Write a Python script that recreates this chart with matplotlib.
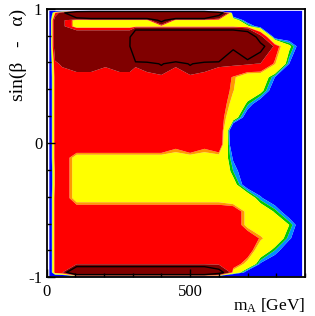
import numpy as np
import matplotlib
matplotlib.use("Agg")
import matplotlib.pyplot as plt
from matplotlib.colors import ListedColormap, BoundaryNorm
from matplotlib.ticker import MultipleLocator, FixedLocator

plt.rcParams['font.family'] = ['Liberation Serif', 'DejaVu Serif']
plt.rcParams['mathtext.fontset'] = 'custom'
plt.rcParams['mathtext.rm'] = 'Liberation Serif'
plt.rcParams['mathtext.it'] = 'Liberation Serif:italic'
plt.rcParams['axes.unicode_minus'] = False

# grid of scan points
m_A = [10, 30, 55, 105, 155, 205, 255, 290, 310, 350, 400, 450, 500,
       550, 600, 650, 700, 745, 795, 845, 890]
sin_ba = [0.984, 0.969, 0.914, 0.869, 0.789, 0.72, 0.59, 0.49, 0.39, 0.29,
          0.19, 0.09, -0.01, -0.11, -0.21, -0.31, -0.41, -0.51, -0.61,
          -0.71, -0.80, -0.90, -0.964, -0.994]

# score per grid point (rows follow sin_ba, columns follow m_A)
score = [
    [-1, -1, -1, -1, -1, -1, -1, -1, -1, -1, -1, -1, -1, -1, -1, -1, -1, -1, -1, -1, -1],
    [-1, 1.5, 3.5, 15, 20, 20, 20, 20, 20, 20, 20, 20, 20, 20, 8, -0.5, 0, 0, 0, 0, 0],
    [-1, 3.5, 2.8, 1, 1, 1, 1, 1, 1, 1, 7, 1, 1, 1, 1, 1, 0, 0, 0, 0, 0],
    [-1, 3.5, 2.8, 1, 1, 1, 1, 1, 1, 1, 1, 1, 1, 1, 1, 1, 0.7, 0, 0, 0, 0],
    [-1, 3.5, 4, 5, 5, 5, 5, 5, 14, 14, 14, 14, 14, 14, 14, 14, 10.4, 3, 0, 0, 0],
    [-1, 3.5, 4, 5, 5, 5, 5, 5, 28, 28, 28, 28, 28, 28, 28, 6.2, 14.9, 7, 2, 0.7, 0],
    [-1, 2.3, 2.67, 3.3, 3.3, 2.67, 3.3, 3.3, 2.67, 3.3, 6, 2.67, 6, 3.3, 2.67, 2.67, 2.6, 2.45, 1.5, 0.3, 0],
    [-1, 2, 2, 2, 2, 2, 2, 2, 2, 2, 1.8, 2, 1.8, 2, 2, 1.55, 1, 1, 0.3, 0, 0],
    [-1, 2, 2, 2, 2, 2, 2, 2, 2, 2, 2, 2, 2, 2, 2, 1.47, 1, 0.75, 0, 0, 0],
    [-1, 2, 2, 2, 2, 2, 2, 2, 2, 2, 2, 2, 2, 2, 2, 1.26, 0.5, 0, 0, 0, 0],
    [-1, 2, 2, 2, 2, 2, 2, 2, 2, 2, 2, 2, 2, 2, 2, 0.9, 0, 0, 0, 0, 0],
    [-1, 2, 2, 2, 2, 2, 2, 2, 2, 2, 2, 2, 2, 2, 2.4, -0.5, 0, 0, 0, 0, 0],
    [-1, 2, 2, 2.3, 2.3, 2.3, 2.3, 2.3, 2.3, 2.3, 2.3, 1.8, 2.3, 1.8, 2.2, -0.3, 0, 0, 0, 0, 0],
    [-1, 2, 2, 1.2, 1.2, 1.2, 1.2, 1.2, 1.2, 1.2, 1.2, 1.2, 1.2, 1.2, 1.2, 0.25, 0, 0, 0, 0, 0],
    [-1, 1.75, 2, 1.2, 1.2, 1.2, 1.2, 1.2, 1.2, 1.2, 1.2, 1.2, 1.2, 1.2, 1.2, 0.45, 0, 0, 0, 0, 0],
    [-1, 1.75, 2, 1.2, 1.2, 1.2, 1.2, 1.2, 1.2, 1.2, 1.2, 1.2, 1.2, 1.2, 1.2, 0.8, 0, 0, 0, 0, 0],
    [-1, 2, 2, 1.2, 1.2, 1.2, 1.2, 1.2, 1.2, 1.2, 1.2, 1.2, 1.2, 1.2, 1.2, 1.0, 1.0, 0.35, 0, 0, 0],
    [-1, 2, 2, 2, 2, 2, 2, 2, 2, 2, 2, 2, 2, 2, 2, 2, 1.3, 1, 0.55, 0, 0],
    [-1, 2, 2, 2, 2, 2, 2, 2, 2, 2, 2, 2, 2, 2, 2, 2, 1.3, 1, 1, 0.6, 0],
    [-1, 2, 2, 2, 2, 2, 2, 2, 2, 2, 2, 2, 2, 2, 2, 2, 2, 1.55, 1, 0.35, 0],
    [-1, 2, 2, 2, 2, 2, 2, 2, 2, 2, 2, 2, 2, 2, 2, 2, 2, 1, 0.45, 0, 0],
    [-1, 2, 2, 2, 2, 2, 2, 2, 2, 2, 2, 2, 2, 2, 2, 2, 1.25, 0.25, 0, 0, 0],
    [-1, 2, 2.4, 12.8, 12.8, 12.8, 12.8, 12.8, 12.8, 12.8, 12.8, 12.8, 12.8, 12.8, 7.6, 1.2, 0, 0, 0, 0, 0],
    [-1, -1, -1, -1, -1, -1, -1, -1, -1, -1, -1, -1, -1, -1, -1, -1, -1, -1, -1, -1, -1],
]

fill_levels = [-10, 0.3, 0.45, 0.6, 1.45, 1.6, 2.5, 100]
fill_colors = ['#0000ff', '#0090ff', '#00c800', '#ffff00', '#ff9900', '#ff0000', '#800000']
line_level = [5.5]

x_ticks_major = [0, 500]
y_ticks_major = [-1, 0, 1]

for r in score:
    assert len(r) == len(m_A), len(r)
assert len(score) == len(sin_ba)

Z = np.array(score, dtype=float)[::-1]
Y = np.array(sin_ba)[::-1]
X = np.array(m_A, dtype=float)

fig = plt.figure(figsize=(3.15, 3.16), dpi=100)
ax = fig.add_axes([46.5 / 315, (316 - 277.3) / 316, (305 - 46.5) / 315, (277.3 - 8.7) / 316])

cmap = ListedColormap(fill_colors)
norm = BoundaryNorm(fill_levels, cmap.N)
ax.contourf(X, Y, Z, levels=fill_levels, cmap=cmap, norm=norm, antialiased=True)
ax.contour(X, Y, Z, levels=line_level, colors='black', linewidths=1.0)

ax.set_xlim(0, 900)
ax.set_ylim(-1, 1)
ax.xaxis.set_major_locator(FixedLocator(x_ticks_major))
ax.xaxis.set_minor_locator(MultipleLocator(100))
ax.yaxis.set_major_locator(FixedLocator(y_ticks_major))
ax.yaxis.set_minor_locator(MultipleLocator(0.2))
ax.tick_params(which='both', direction='in', top=False, right=False, labelsize=12)
ax.tick_params(which='major', length=6, width=1.0)
ax.tick_params(which='minor', length=3, width=1.0)
ax.tick_params(axis='y', pad=3)
ax.tick_params(axis='x', pad=5)
for sp in ax.spines.values():
    sp.set_linewidth(1.3)
    sp.set_color('black')

ax.set_xlabel(r'$\mathregular{m_{A}}$ [GeV]', fontsize=12.5, loc='right')
ax.xaxis.set_label_coords(1.0, -0.07)
ax.set_ylabel('sin(β   -   α)', fontsize=14, loc='top')
ax.yaxis.set_label_coords(-0.075, 1.0)

fig.savefig('out.png', dpi=100)
